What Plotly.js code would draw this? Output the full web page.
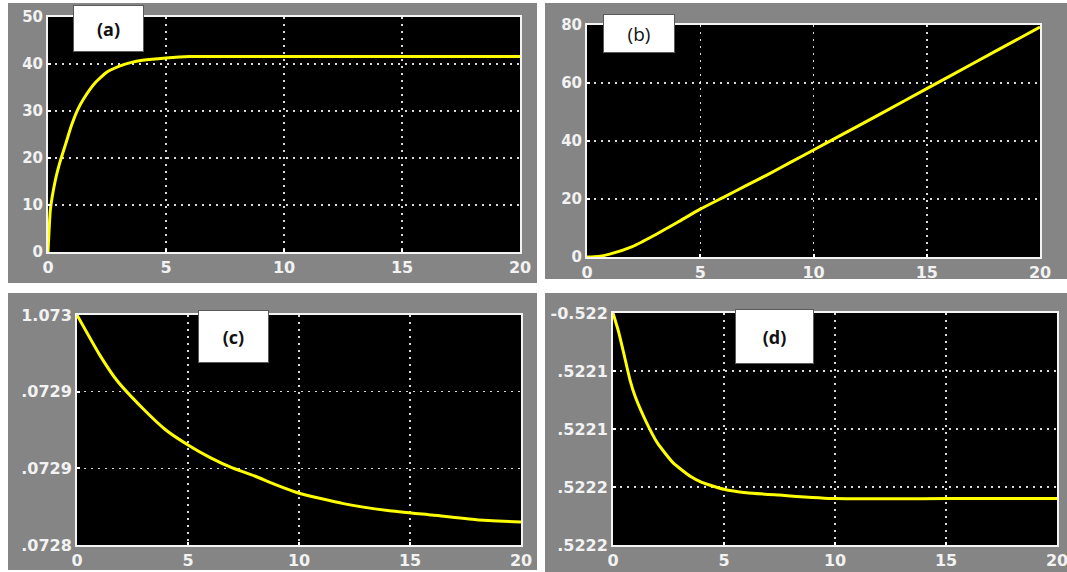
<!DOCTYPE html>
<html>
<head>
<meta charset="utf-8">
<script src="https://cdn.plot.ly/plotly-3.0.1.min.js"></script>
<style>html,body{margin:0;padding:0;background:#fff;}#chart{width:1067px;height:572px;}</style>
</head>
<body>
<div id="chart"></div>
<script>
// ---- data ----
const tA = [0, 0.05, 0.1, 0.3, 0.5, 0.75, 1, 1.25, 1.5, 2, 2.5, 3, 3.5, 4, 5, 6, 8, 10, 15, 20];
const yA = [0, 5, 9, 15, 19, 23, 27, 30.2, 32.5, 36, 38.3, 39.5, 40.3, 40.8, 41.3, 41.6, 41.6, 41.6, 41.6, 41.6];

const tB = [0, 0.5, 1, 2, 3, 4, 5, 6, 7, 8, 9, 10, 12, 14, 16, 18, 20];
const yB = [0, 0.2, 1, 3.6, 7.6, 12, 16.5, 20.5, 24.5, 28.5, 32.7, 36.9, 45.3, 53.8, 62.3, 70.8, 79.3];

const tC = [0, 1, 1.8, 3, 4, 5, 6, 7, 8, 9, 10, 12, 14, 16, 18, 20];
const yC = [1.073, 1.072966, 1.072943, 1.072918, 1.0729, 1.072887, 1.072876, 1.072867, 1.07286, 1.072852,
            1.072845, 1.072836, 1.07283, 1.072826, 1.072822, 1.07282];

const tD = [0, 0.25, 0.5, 0.77, 1, 1.5, 2, 2.7, 3.5, 4, 5, 6, 7.5, 10, 15, 20];
const yD = [-0.522, -0.522016, -0.522036, -0.522058, -0.522072, -0.522094, -0.522112, -0.522129, -0.522141,
            -0.522146, -0.522152, -0.522155, -0.522157, -0.52216, -0.52216, -0.52216];

const xTicks = [0, 5, 10, 15, 20];
const yTicksA = [0, 10, 20, 30, 40, 50];
const yTicksB = [0, 20, 40, 60, 80];
const yTicksC = [1.0728, 1.0728667, 1.0729333, 1.073];
const yTextC = ['.0728', '.0729', '.0729', '1.073'];
const yTicksD = [-0.5222, -0.52215, -0.5221, -0.52205, -0.522];
const yTextD = ['.5222', '.5222', '.5221', '.5221', '-0.522'];
const panelLabels = ['(a)', '(b)', '(c)', '(d)'];

// ---- layout helpers ----
const W = 1067, H = 572;
const px = v => v / W;
const py = v => 1 - v / H;

const lineStyle = {color: '#ffff00', width: 3, shape: 'spline', smoothing: 0.5};
const traces = [
  {x: tA, y: yA, xaxis: 'x', yaxis: 'y', mode: 'lines', line: lineStyle, hoverinfo: 'skip'},
  {x: tB, y: yB, xaxis: 'x2', yaxis: 'y2', mode: 'lines', line: lineStyle, hoverinfo: 'skip'},
  {x: tC, y: yC, xaxis: 'x3', yaxis: 'y3', mode: 'lines', line: lineStyle, hoverinfo: 'skip'},
  {x: tD, y: yD, xaxis: 'x4', yaxis: 'y4', mode: 'lines', line: lineStyle, hoverinfo: 'skip'}
];

const font = 'DejaVu Sans, Liberation Sans, Arial, sans-serif';
function xax(d0, d1, anchor, size) {
  return {domain: [px(d0), px(d1)], anchor: anchor, range: [0, 20], tickvals: xTicks,
    ticktext: xTicks.map(String), showgrid: true, gridcolor: 'rgba(255,255,255,0.85)', griddash: '2px,5px',
    gridwidth: 1.5, zeroline: false, showline: true, mirror: true, linecolor: '#f4f4f4', linewidth: 2,
    ticks: 'inside', ticklen: 3, tickcolor: '#fff', tickwidth: 2, ticklabeloverflow: 'allow',
    tickfont: {family: font, size: size, color: '#f2f2f2', weight: 'bold'}, fixedrange: true};
}
function yax(d0, d1, anchor, range, vals, text, size) {
  return {domain: [py(d1), py(d0)], anchor: anchor, range: range, tickvals: vals, ticktext: text,
    showgrid: true, gridcolor: 'rgba(255,255,255,0.85)', griddash: '2px,5px', gridwidth: 1.5,
    zeroline: false, showline: true, mirror: true, linecolor: '#f4f4f4', linewidth: 2,
    ticks: 'inside', ticklen: 3, tickcolor: '#fff', tickwidth: 2, ticklabeloverflow: 'allow',
    tickfont: {family: font, size: size, color: '#f2f2f2', weight: 'bold'}, fixedrange: true};
}

function rect(x0, y0, x1, y1, color) {
  return {type: 'rect', xref: 'paper', yref: 'paper', x0: px(x0), x1: px(x1), y0: py(y1), y1: py(y0),
    fillcolor: color, line: {width: 0}, layer: 'below'};
}
function label(i, cx, cy, w, h, bold, size) {
  return {text: panelLabels[i], xref: 'paper', yref: 'paper', x: px(cx), y: py(cy), xanchor: 'center',
    yanchor: 'middle', showarrow: false, width: w, height: h, bgcolor: '#ffffff', bordercolor: '#5a5a5a',
    borderwidth: 1, borderpad: 0, align: 'center', valign: 'middle',
    font: {family: 'Open Sans, Liberation Sans, Arial, sans-serif', size: size, color: '#111', weight: bold ? 'bold' : 'normal'}};
}

const gray = '#858585';
const layout = {
  width: W, height: H, margin: {l: 0, r: 0, t: 0, b: 0}, showlegend: false,
  paper_bgcolor: '#ffffff', plot_bgcolor: '#000000',
  xaxis: xax(48, 520, 'y', 16),
  yaxis: yax(17, 252, 'x', [0, 50], yTicksA, yTicksA.map(String), 15),
  xaxis2: xax(587, 1040, 'y2', 16),
  yaxis2: yax(25, 257, 'x2', [0, 80], yTicksB, yTicksB.map(String), 15),
  xaxis3: xax(77, 521, 'y3', 16),
  yaxis3: yax(315, 545, 'x3', [1.0728, 1.073], yTicksC, yTextC, 16),
  xaxis4: xax(613, 1057, 'y4', 16),
  yaxis4: yax(313, 545, 'x4', [-0.5222, -0.522], yTicksD, yTextD, 16),
  shapes: [
    rect(8, 3, 537, 283, gray), rect(545, 3, 1067, 279, gray),
    rect(8, 293, 537, 570, gray), rect(545, 293, 1067, 572, gray),
    rect(48, 17, 520, 252, '#000'), rect(587, 25, 1040, 257, '#000'),
    rect(77, 315, 521, 545, '#000'), rect(613, 313, 1057, 545, '#000')
  ],
  annotations: [
    label(0, 108.5, 28.5, 69, 45, true, 18),
    label(1, 639, 33.5, 70, 37, false, 19),
    label(2, 233.5, 336.5, 69, 51, true, 18),
    label(3, 774.5, 336.5, 77, 53, true, 18)
  ]
};

Plotly.newPlot('chart', traces, layout, {staticPlot: true, displayModeBar: false});
</script>
</body>
</html>
